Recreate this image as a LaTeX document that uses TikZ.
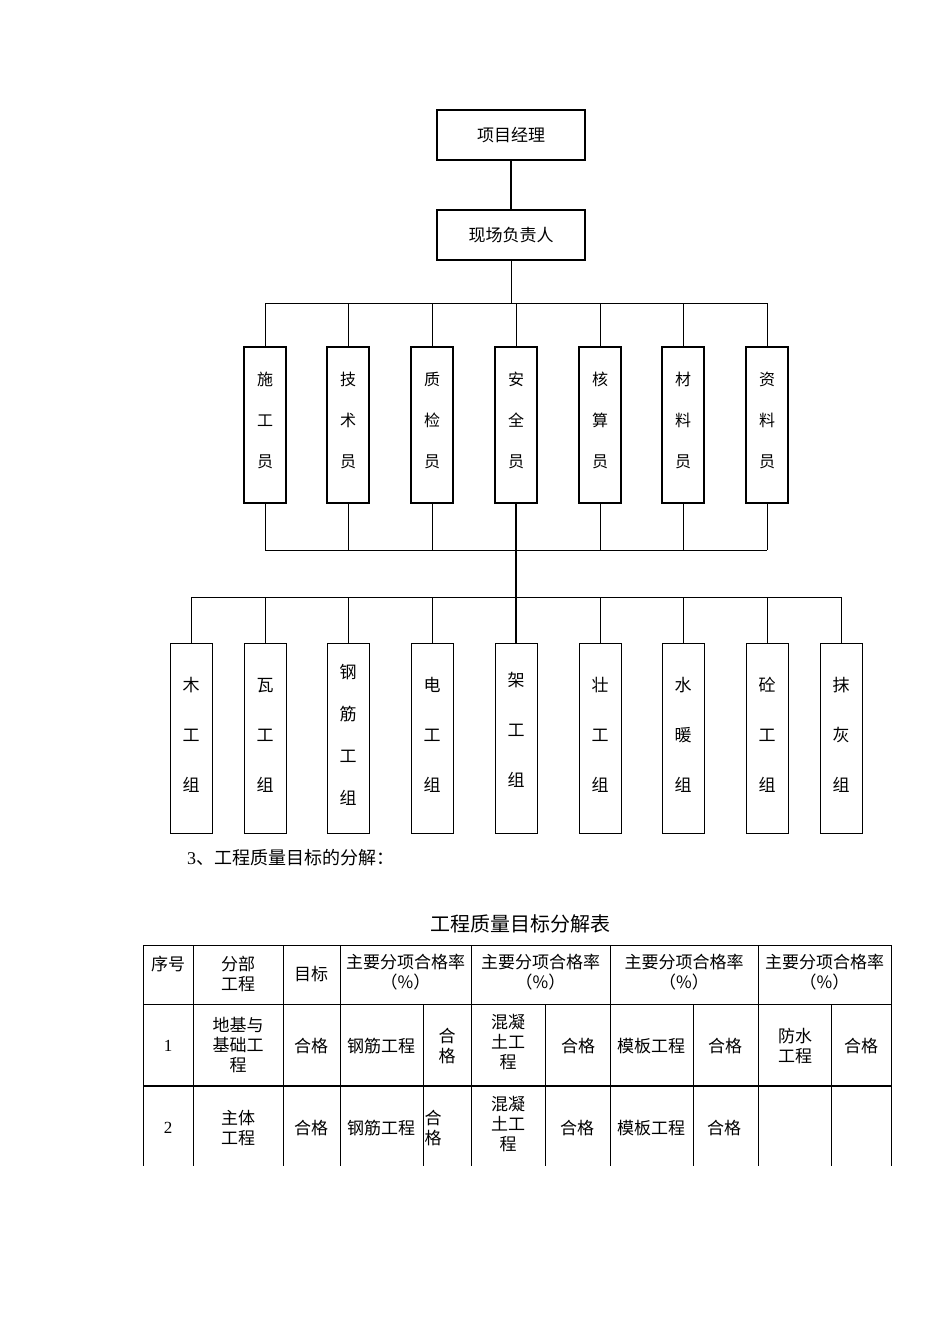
\documentclass[tikz,border=0pt]{standalone}
\usepackage{fontspec}
\setmainfont{Liberation Serif}
\newfontfamily\cjk{Noto Sans CJK SC}[Scale=1]
\begin{document}
\begin{tikzpicture}[x=1pt,y=-1pt,
 box/.style={draw,line width=1.2pt,inner sep=0pt,font=\cjk\fontsize{16}{19}\selectfont,align=center},
 ln/.style={line width=1pt},
 tk/.style={line width=2.4pt},
 tx/.style={font=\cjk\fontsize{16}{19}\selectfont,align=center,inner sep=0pt}]
\useasboundingbox[fill=white] (0,0) rectangle (950,1344);
\node[box,minimum width=148pt,minimum height=50pt,font=\cjk\fontsize{17}{20}\selectfont] (pm) at (511,135) {项目经理};
\node[box,minimum width=148pt,minimum height=50pt,font=\cjk\fontsize{17}{20}\selectfont] (xc) at (511,235) {现场负责人};
\draw[tk] (pm.south) -- (xc.south |- xc.north);
\coordinate (b1) at (511,303);
\draw[ln] (xc.south) -- (b1);
\draw[ln] (265,303) -- (767,303);
\foreach \n/\x/\t in {m1/265/施\\[22pt]工\\[22pt]员, m2/348/技\\[22pt]术\\[22pt]员, m3/432/质\\[22pt]检\\[22pt]员, m4/516/安\\[22pt]全\\[22pt]员, m5/600/核\\[22pt]算\\[22pt]员, m6/683/材\\[22pt]料\\[22pt]员, m7/767/资\\[22pt]料\\[22pt]员}{
 \node[box,minimum width=42pt,minimum height=156pt] (\n) at (\x,425) {};
 \node[tx] at (\x,420) {\t};
 \draw[ln] (\n.north) -- (\x,303);
 \draw[ln] (\n.south) -- (\x,550);
}
\draw[ln] (265,550) -- (767,550);
\draw[ln] (191,597) -- (841,597);
\foreach \n/\x/\t in {w1/191/木\\[30pt]工\\[30pt]组, w2/265/瓦\\[30pt]工\\[30pt]组, w3/348/钢\\[22pt]筋\\[22pt]工\\[22pt]组, w4/432/电\\[30pt]工\\[30pt]组, w6/600/壮\\[30pt]工\\[30pt]组, w7/683/水\\[30pt]暖\\[30pt]组, w8/767/砼\\[30pt]工\\[30pt]组, w9/841/抹\\[30pt]灰\\[30pt]组}{
 \node[box,line width=1pt,minimum width=42pt,minimum height=190pt] (\n) at (\x,738) {};
 \node[tx,font=\cjk\fontsize{17}{20}\selectfont] at (\x,735) {\t};
 \draw[ln] (\n.north) -- (\x,597);
}
\node[box,line width=1pt,minimum width=42pt,minimum height=190pt] (w5) at (516,738) {};
\node[tx,font=\cjk\fontsize{17}{20}\selectfont] at (516,730) {架\\[30pt]工\\[30pt]组};
\draw[tk] (m4.south) -- (w5.north);
\node[anchor=west,inner sep=0pt,font=\fontsize{18}{20}\selectfont] (h3) at (187,858) {3\cjk、工程质量目标的分解：};
\node[inner sep=0pt,font=\cjk\fontsize{20}{22}\selectfont] (tt) at (520,924) {工程质量目标分解表};
% table
\draw[ln] (143,945) -- (891,945);
\draw[ln] (143,1004) -- (891,1004);
\draw[line width=2pt] (143,1086) -- (891,1086);
\foreach \x in {143,193,283,340,471,610,758,891} \draw[ln] (\x,945) -- (\x,1166);
\foreach \x in {423,545,693,831} \draw[ln] (\x,1004) -- (\x,1166);
\begin{scope}[every node/.style={tx,font=\cjk\fontsize{17}{20}\selectfont}]
\node (c11) at (168,964) {序号};
\node at (238,974) {分部\\工程};
\node at (311,974) {目标};
\foreach \a/\b in {340/471,471/610,610/758,758/891}
 \node at ({(\a+\b)/2},972) {主要分项合格率\\（\%）};
\node[font=\fontsize{17}{20}\selectfont] at (168,1046) {1};
\node at (238,1045) {地基与\\基础工\\程};
\node at (311,1046) {合格};
\node at (381,1046) {钢筋工程};
\node at (447,1046) {合\\格};
\node at (508,1042) {混凝\\土工\\程};
\node at (578,1046) {合格};
\node at (651,1046) {模板工程};
\node at (725,1046) {合格};
\node at (795,1046) {防水\\工程};
\node at (861,1046) {合格};
\node[font=\fontsize{17}{20}\selectfont] at (168,1128) {2};
\node at (238,1128) {主体\\工程};
\node at (311,1128) {合格};
\node at (381,1128) {钢筋工程};
\node at (433,1128) {合\\格};
\node at (508,1124) {混凝\\土工\\程};
\node at (577,1128) {合格};
\node at (651,1128) {模板工程};
\node at (724,1128) {合格};
\end{scope}
\end{tikzpicture}
\end{document}
